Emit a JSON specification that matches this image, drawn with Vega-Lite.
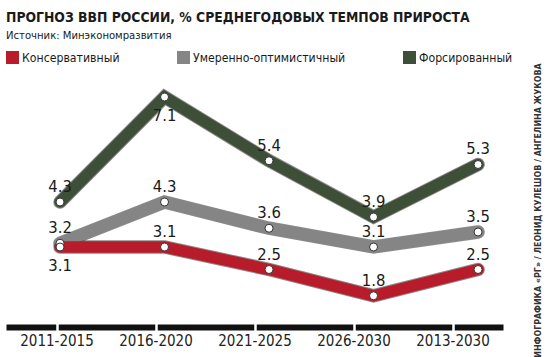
{
  "$schema": "https://vega.github.io/schema/vega-lite/v6.json",
  "width": 497,
  "height": 247,
  "autosize": {"type": "none"},
  "padding": {"left": 6, "top": 80, "right": 47, "bottom": 30},
  "background": "white",
  "title": {
    "text": "ПРОГНОЗ ВВП РОССИИ, % СРЕДНЕГОДОВЫХ ТЕМПОВ ПРИРОСТА",
    "subtitle": "Источник: Минэкономразвития",
    "anchor": "start",
    "font": "DejaVu Sans Condensed",
    "fontSize": 13.8,
    "fontWeight": "bold",
    "color": "#1a1a1a",
    "subtitleFont": "DejaVu Sans Condensed",
    "subtitleFontSize": 11.2,
    "subtitleColor": "#1a1a1a",
    "subtitlePadding": 5,
    "offset": 10
  },
  "data": {
    "values": [
      {"series": "Форсированный", "period": "2011-2015", "value": 4.3},
      {"series": "Форсированный", "period": "2016-2020", "value": 7.1},
      {"series": "Форсированный", "period": "2021-2025", "value": 5.4},
      {"series": "Форсированный", "period": "2026-2030", "value": 3.9},
      {"series": "Форсированный", "period": "2013-2030", "value": 5.3},
      {"series": "Умеренно-оптимистичный", "period": "2011-2015", "value": 3.2},
      {"series": "Умеренно-оптимистичный", "period": "2016-2020", "value": 4.3},
      {"series": "Умеренно-оптимистичный", "period": "2021-2025", "value": 3.6},
      {"series": "Умеренно-оптимистичный", "period": "2026-2030", "value": 3.1},
      {"series": "Умеренно-оптимистичный", "period": "2013-2030", "value": 3.5},
      {"series": "Консервативный", "period": "2011-2015", "value": 3.1},
      {"series": "Консервативный", "period": "2016-2020", "value": 3.1},
      {"series": "Консервативный", "period": "2021-2025", "value": 2.5},
      {"series": "Консервативный", "period": "2026-2030", "value": 1.8},
      {"series": "Консервативный", "period": "2013-2030", "value": 2.5}
    ]
  },
  "layer": [
    {
      "encoding": {
        "x": {
          "field": "period",
          "type": "ordinal",
          "sort": ["2011-2015", "2016-2020", "2021-2025", "2026-2030", "2013-2030"],
          "scale": {"type": "point", "padding": 0.378, "align": 0.684},
          "axis": null
        },
        "y": {
          "field": "value",
          "type": "quantitative",
          "scale": {"domain": [0.967, 7.553], "nice": false, "zero": false},
          "axis": {
            "orient": "right",
            "title": "ИНФОГРАФИКА «РГ» / ЛЕОНИД КУЛЕШОВ / АНГЕЛИНА ЖУКОВА",
            "titleAngle": 270,
            "titleX": 34,
            "titleY": 130,
            "titleAlign": "center",
            "titleBaseline": "middle",
            "titleFont": "DejaVu Sans Condensed",
            "titleFontSize": 8.8,
            "titleFontWeight": "bold",
            "titleColor": "#333333",
            "labels": false,
            "ticks": false,
            "domain": false,
            "grid": false
          }
        }
      },
      "layer": [
        {
          "mark": {"type": "line", "stroke": "#2a2a2a", "strokeOpacity": 0.55, "strokeWidth": 13.5, "strokeJoin": "miter", "strokeCap": "round"},
          "encoding": {"detail": {"field": "series"}}
        },
        {
          "mark": {"type": "line", "strokeWidth": 11.5, "strokeJoin": "miter", "strokeCap": "round"},
          "encoding": {
            "color": {
              "field": "series",
              "type": "nominal",
              "scale": {
                "domain": ["Консервативный", "Умеренно-оптимистичный", "Форсированный"],
                "range": ["#b81c2a", "#858585", "#3e4f37"]
              },
              "legend": {
                "orient": "none",
                "legendX": 0,
                "legendY": -29,
                "direction": "horizontal",
                "title": null,
                "padding": 0,
                "symbolType": "square",
                "symbolSize": 169,
                "symbolStrokeWidth": 0,
                "labelFont": "DejaVu Sans Condensed",
                "labelFontSize": 12.2,
                "labelColor": "#1a1a1a",
                "labelOffset": 3,
                "labelLimit": 400,
                "columnPadding": 57,
                "encode": {
                  "symbols": {
                    "update": {
                      "fill": {"scale": "color", "field": "value"},
                      "stroke": {"value": "transparent"},
                      "opacity": {"value": 1}
                    }
                  }
                }
              }
            }
          }
        },
        {
          "mark": {"type": "point", "filled": true, "fill": "white", "stroke": "#333333", "strokeWidth": 1, "size": 64, "opacity": 1}
        },
        {
          "transform": [{"filter": "!((datum.series == 'Форсированный' && datum.period == '2016-2020') || (datum.series == 'Консервативный' && datum.period == '2011-2015'))"}],
          "mark": {"type": "text", "font": "DejaVu Sans Condensed", "fontSize": 16.5, "color": "#1a1a1a", "baseline": "middle", "dy": -15},
          "encoding": {"text": {"field": "value", "type": "quantitative", "format": ".1f"}}
        },
        {
          "transform": [{"filter": "(datum.series == 'Форсированный' && datum.period == '2016-2020') || (datum.series == 'Консервативный' && datum.period == '2011-2015')"}],
          "mark": {"type": "text", "font": "DejaVu Sans Condensed", "fontSize": 16.5, "color": "#1a1a1a", "baseline": "middle", "dy": 19},
          "encoding": {"text": {"field": "value", "type": "quantitative", "format": ".1f"}}
        }
      ]
    },
    {
      "mark": {"type": "point", "opacity": 0},
      "encoding": {
        "x": {
          "field": "period",
          "type": "ordinal",
          "sort": ["2011-2015", "2016-2020", "2021-2025", "2026-2030", "2013-2030"],
          "scale": {"type": "point", "padding": 0.51},
          "axis": {
            "orient": "bottom",
            "title": null,
            "domain": true,
            "domainColor": "#111111",
            "domainWidth": 6,
            "domainDash": [96.5, 2.5],
            "domainDashOffset": 46.75,
            "ticks": false,
            "grid": false,
            "labelAngle": 0,
            "labelFont": "DejaVu Sans Condensed",
            "labelFontSize": 15,
            "labelColor": "#222222",
            "labelPadding": 6
          }
        }
      }
    }
  ],
  "resolve": {"scale": {"x": "independent"}},
  "config": {"view": {"stroke": null}}
}
